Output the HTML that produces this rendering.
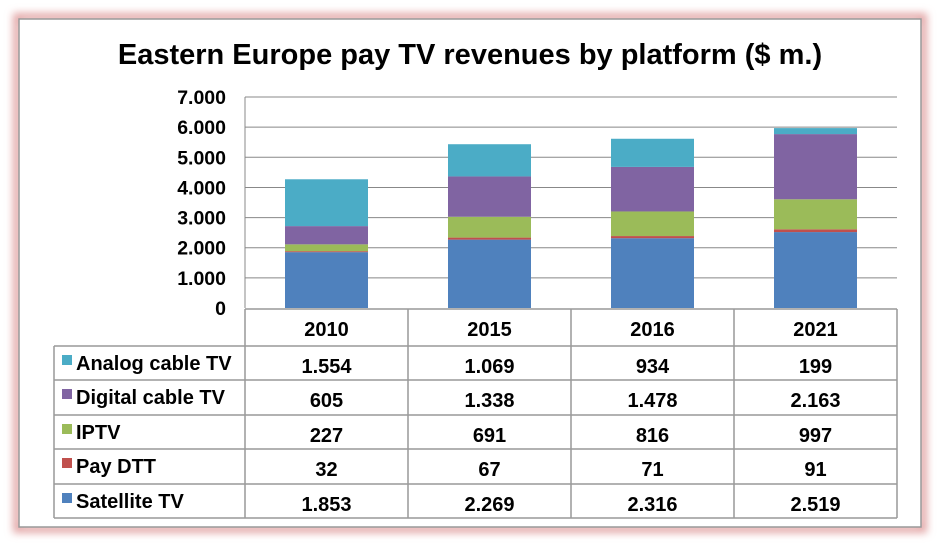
<!DOCTYPE html>
<html><head><meta charset="utf-8"><style>
body{margin:0;background:#fff;width:940px;height:547px;overflow:hidden}
svg{display:block}
text{font-family:"Liberation Sans",Arial,sans-serif;font-weight:bold;fill:#000}
</style></head><body>
<svg id="s" width="940" height="547" xmlns="http://www.w3.org/2000/svg">
<defs><filter id="g" x="-10%" y="-10%" width="120%" height="120%"><feGaussianBlur stdDeviation="4"/></filter></defs>
<rect x="17" y="17" width="906" height="512" fill="none" stroke="#e3a7a7" stroke-width="8" filter="url(#g)"/>
<rect x="19" y="19" width="902" height="508" fill="#fff" stroke="#999" stroke-width="1.5"/>
<text x="470" y="64" font-size="29" text-anchor="middle">Eastern Europe pay TV revenues by platform ($ m.)</text>
</svg>
<script>
var s=document.getElementById('s'),h='';
var y0=308,k=0.03014,L=245,R=897,cw=163;
for(var i=0;i<=7;i++){var y=y0-i*1000*k;
 if(i>0)h+='<line x1="'+L+'" x2="'+R+'" y1="'+y+'" y2="'+y+'" stroke="#888" stroke-width="1"/>';
 h+='<text x="226" y="'+(y+7)+'" font-size="19.5" text-anchor="end">'+(i==0?'0':i+'.000')+'</text>';}
h+='<line x1="'+L+'" x2="'+L+'" y1="97" y2="308" stroke="#888"/>';
var cols=['#4F81BD','#C0504D','#9BBB59','#8064A2','#4BACC6'];
var data=[[1853,32,227,605,1554],[2269,67,691,1338,1069],[2316,71,816,1478,934],[2519,91,997,2163,199]];
var yrs=['2010','2015','2016','2021'];
data.forEach(function(d,c){var x=L+c*cw+40,acc=0;d.forEach(function(v,j){var yt=y0-(acc+v)*k,yb=y0-acc*k;acc+=v;
 h+='<rect x="'+x+'" y="'+yt+'" width="83" height="'+(yb-yt)+'" fill="'+cols[j]+'"/>';});});
var rows=[309,346,380,415,449,484,518];
h+='<g stroke="#999" stroke-width="1.5" fill="none">';
rows.forEach(function(y,i){h+='<line x1="'+(i==0?L:54)+'" x2="'+R+'" y1="'+y+'" y2="'+y+'"/>';});
h+='<line x1="54" x2="54" y1="346" y2="518"/>';
for(var c=0;c<=4;c++){var x=L+c*cw;h+='<line x1="'+x+'" x2="'+x+'" y1="309" y2="518"/>';}
h+='</g>';
yrs.forEach(function(t,c){h+='<text x="'+(L+c*cw+cw/2)+'" y="336" font-size="20" text-anchor="middle">'+t+'</text>';});
var names=['Analog cable TV','Digital cable TV','IPTV','Pay DTT','Satellite TV'];
var vals=[['1.554','1.069','934','199'],['605','1.338','1.478','2.163'],['227','691','816','997'],['32','67','71','91'],['1.853','2.269','2.316','2.519']];
var rc=[4,3,2,1,0];
for(var r=0;r<5;r++){var yt=rows[r+1];
 h+='<rect x="62" y="'+(yt+9)+'" width="10" height="10" fill="'+cols[rc[r]]+'"/>';
 h+='<text x="76" y="'+(yt+24)+'" font-size="20">'+names[r]+'</text>';
 for(var c=0;c<4;c++)h+='<text x="'+(L+c*cw+cw/2)+'" y="'+(yt+27)+'" font-size="20" text-anchor="middle">'+vals[r][c]+'</text>';}
s.insertAdjacentHTML('beforeend',h);
</script>
</body></html>
